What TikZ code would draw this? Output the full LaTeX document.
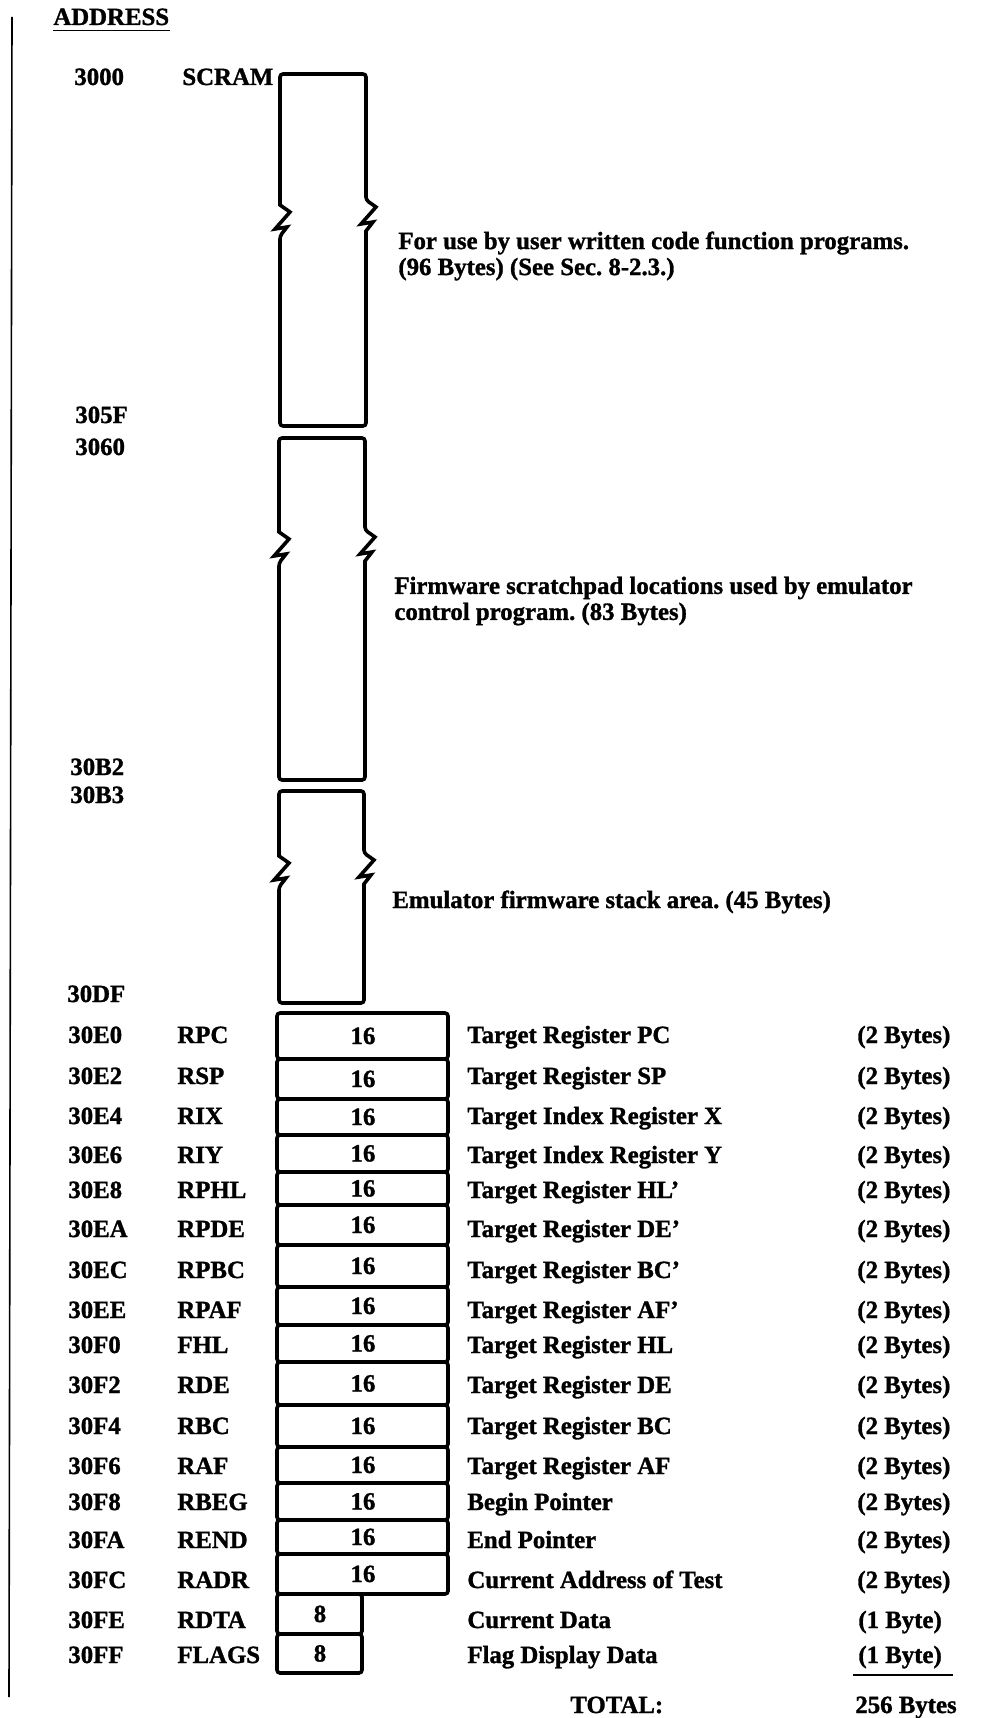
\documentclass[tikz,border=0pt]{standalone}
\usepackage{fontspec}
\setmainfont{Liberation Serif}[BoldFeatures={FakeBold=1.2}]
\frenchspacing
\tikzset{
  memline/.style={line width=1.8pt, rounded corners=1.5pt},
  lbl/.style={anchor=west, inner sep=0pt, text height=8pt, text depth=0pt},
  bitlbl/.style={lbl, anchor=center},
  note/.style={anchor=west, inner sep=0pt, align=left},
}
\begin{document}
\begin{tikzpicture}[x=0.5pt, y=-0.5pt, font=\bfseries\fontsize{12.4}{13}\selectfont]
  \useasboundingbox (0,0) rectangle (1001,1718);

  % Margin rule
  \draw[line width=0.8pt] (12,17) -- (9,1697);

  % Heading
  \node[lbl] (addr) at (53,17) {ADDRESS};
  \draw[line width=0.8pt] ([yshift=-2.5pt]addr.south west) -- ([yshift=-2.5pt]addr.south east);

  % Scratch areas, with breaks
  \foreach \l/\r/\t/\b/\zl/\zr in {280/366/74/426/205/200, 279/365/438/780/532/530, 279/364/791/1003/856/853} {
    \draw[memline] (\l,\b) -- (\l,\zl+31) [sharp corners] -- ++(7,-9) -- ++(-12,2) -- ++(15,-17) -- ++(-10,-7)
      [rounded corners=1.5pt] -- (\l,\t) -- (\r,\t) -- (\r,\zr)
      [sharp corners] -- ++(10,7) -- ++(-15,17) -- ++(12,-2) -- ++(-7,9)
      [rounded corners=1.5pt] -- (\r,\b) -- cycle;
  }
  \foreach \x/\y/\adr in {74/77/3000, 75/415/305F, 75/447/3060, 70/767/30B2, 70/795/30B3, 67/994/30DF} {
    \node[lbl] (adr\adr) at (\x,\y) {\adr};
  }
  \node[lbl] (nmSCRAM) at (182,77) {SCRAM};

  % Notes
  \node[note] (noteuser) at (398,256) {For use by user written code function programs.\\(96 Bytes) (See Sec. 8-2.3.)};
  \node[note] (notefw) at (394,601) {Firmware scratchpad locations used by emulator\\control program. (83 Bytes)};
  \node[lbl] (notestack) at (392,900) {Emulator firmware stack area. (45 Bytes)};

  % 16 bit registers
  \foreach \adr/\nm/\t/\b/\y/\txt in {
      30E0/RPC/1013/1059/1035/Target Register PC,
      30E2/RSP/1059/1099/1076/Target Register SP,
      30E4/RIX/1099/1135/1116/Target Index Register X,
      30E6/RIY/1135/1172/1155/Target Index Register Y,
      30E8/RPHL/1172/1205/1190/Target Register HL',
      30EA/RPDE/1205/1245/1229/Target Register DE',
      30EC/RPBC/1245/1287/1270/Target Register BC',
      30EE/RPAF/1287/1325/1310/Target Register AF',
      30F0/FHL/1325/1362/1345/Target Register HL,
      30F2/RDE/1362/1405/1385/Target Register DE,
      30F4/RBC/1405/1447/1426/Target Register BC,
      30F6/RAF/1447/1483/1466/Target Register AF,
      30F8/RBEG/1483/1520/1502/Begin Pointer,
      30FA/REND/1520/1554/1540/End Pointer,
      30FC/RADR/1554/1594/1580/Current Address of Test} {
    \draw[memline] (277,\t) rectangle (448,\b);
    \node[bitlbl] (bits\nm) at (363,{(\t+\b)/2}) {16};
    \node[lbl] (adr\adr) at (68,\y) {\adr};
    \node[lbl] (nm\nm) at (177,\y) {\nm};
    \node[lbl] (desc\nm) at (467,\y) {\txt};
    \node[lbl] (size\nm) at (857,\y) {(2 Bytes)};
  }

  % 8 bit registers
  \foreach \adr/\nm/\t/\b/\y/\txt in {
      30FE/RDTA/1594/1634/1620/Current Data,
      30FF/FLAGS/1634/1673/1655/Flag Display Data} {
    \draw[memline] (277,\t) rectangle (362,\b);
    \node[bitlbl] (bits\nm) at (320,{(\t+\b)/2}) {8};
    \node[lbl] (adr\adr) at (68,\y) {\adr};
    \node[lbl] (nm\nm) at (177,\y) {\nm};
    \node[lbl] (desc\nm) at (467,\y) {\txt};
    \node[lbl] (size\nm) at (858,\y) {(1 Byte)};
  }

  % Total
  \draw[line width=0.6pt] (853,1675) -- (953,1675);
  \node[lbl] (total) at (570,1705) {TOTAL:};
  \node[lbl] (sum) at (855,1705) {256 Bytes};
\end{tikzpicture}
\end{document}
